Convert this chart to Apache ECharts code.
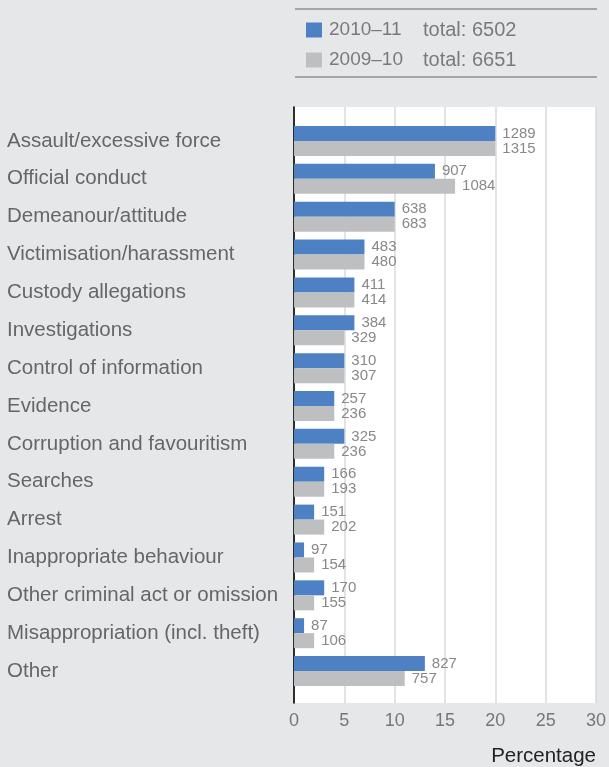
<!DOCTYPE html>
<html>
<head>
<meta charset="utf-8">
<style>
  html, body { margin: 0; padding: 0; background: #e6e7e9; }
  #chart { width: 609px; height: 767px; }
</style>
<script src="https://cdn.jsdelivr.net/npm/echarts@6/dist/echarts.min.js"></script>
</head>
<body>
<div id="chart"></div>
<script>
// complaint categories, top to bottom
const categories = [
    'Assault/excessive force',
    'Official conduct',
    'Demeanour/attitude',
    'Victimisation/harassment',
    'Custody allegations',
    'Investigations',
    'Control of information',
    'Evidence',
    'Corruption and favouritism',
    'Searches',
    'Arrest',
    'Inappropriate behaviour',
    'Other criminal act or omission',
    'Misappropriation (incl. theft)',
    'Other'
];

const years = ['2010–11', '2009–10'];
const totals = [6502, 6651];

// bar lengths (percentage)
const pct1011 = [20, 14, 10, 7, 6, 6, 5, 4, 5, 3, 2, 1, 3, 1, 13];
const pct0910 = [20, 16, 10, 7, 6, 5, 5, 4, 4, 3, 3, 2, 2, 2, 11];

// counts printed next to the bars
const count1011 = [1289, 907, 638, 483, 411, 384, 310, 257, 325, 166, 151, 97, 170, 87, 827];
const count0910 = [1315, 1084, 683, 480, 414, 329, 307, 236, 236, 193, 202, 154, 155, 106, 757];

const xTicks = [0, 5, 10, 15, 20, 25, 30];

const FONT = '"Liberation Sans", Arial, sans-serif';
const BLUE = '#4d81c3';
const GREY = '#bebfc1';

const chart = echarts.init(document.getElementById('chart'));

function barSeries(name, values, counts) {
    return {
        name: name,
        type: 'bar',
        xAxisIndex: 1,
        yAxisIndex: 1,
        data: values,
        barWidth: 15,
        barGap: '0%',
        itemStyle: { color: name === years[0] ? BLUE : GREY },
        label: {
            show: true,
            position: 'right',
            distance: 7,
            color: '#888',
            fontFamily: FONT,
            fontSize: 15,
            formatter: (p) => String(counts[p.dataIndex])
        },
        emphasis: { disabled: true }
    };
}

const option = {
    backgroundColor: '#e6e7e9',
    animation: false,
    textStyle: { fontFamily: FONT },
    legend: {
        data: years,
        orient: 'vertical',
        left: 301,
        top: 15,
        itemWidth: 16,
        itemHeight: 15,
        itemGap: 10,
        icon: 'rect',
        selectedMode: false,
        textStyle: {
            padding: [0, 0, 0, 2],
            lineHeight: 20,
            rich: {
                y: { width: 94, fontSize: 19, color: '#7a7a7a', fontFamily: FONT },
                t: { fontSize: 20, color: '#7a7a7a', fontFamily: FONT }
            }
        },
        formatter: (name) => {
            const i = years.indexOf(name);
            return '{y|' + name + '}{t|total: ' + totals[i] + '}';
        }
    },
    graphic: [
        { type: 'line', shape: { x1: 295, y1: 9, x2: 597, y2: 9 }, style: { stroke: '#8f8f8f', lineWidth: 1.5 } },
        { type: 'line', shape: { x1: 295, y1: 77, x2: 597, y2: 77 }, style: { stroke: '#8f8f8f', lineWidth: 1.5 } }
    ],
    grid: [
        // white plot background with grid lines
        { left: 294, right: 13, top: 107, bottom: 62, show: true, backgroundColor: '#fff', borderWidth: 0 },
        // bars
        { left: 294, right: 13, top: 122, bottom: 77 }
    ],
    xAxis: [
        {
            gridIndex: 0,
            type: 'value',
            min: xTicks[0],
            max: xTicks[xTicks.length - 1],
            interval: 5,
            axisLine: { show: false },
            axisTick: { show: false },
            splitLine: { lineStyle: { color: '#dadada', width: 1.5 } },
            axisLabel: { color: '#777', fontSize: 18, margin: 9, fontFamily: FONT },
            name: 'Percentage',
            nameLocation: 'end',
            nameGap: 0,
            nameTextStyle: {
                color: '#222',
                fontSize: 20.5,
                fontFamily: FONT,
                align: 'right',
                verticalAlign: 'top',
                padding: [43, 0, 0, 0]
            }
        },
        {
            gridIndex: 1,
            type: 'value',
            min: xTicks[0],
            max: xTicks[xTicks.length - 1],
            show: false
        }
    ],
    yAxis: [
        {
            gridIndex: 0,
            type: 'value',
            axisLine: { show: true, lineStyle: { color: '#000', width: 1.6 } },
            axisTick: { show: false },
            axisLabel: { show: false },
            splitLine: { show: false }
        },
        {
            gridIndex: 1,
            type: 'category',
            data: categories,
            inverse: true,
            axisLine: { show: false },
            axisTick: { show: false },
            axisLabel: {
                align: 'left',
                margin: 287,
                color: '#666',
                fontSize: 20.5,
                fontFamily: FONT
            }
        }
    ],
    series: [
        barSeries(years[0], pct1011, count1011),
        barSeries(years[1], pct0910, count0910)
    ]
};

chart.setOption(option);
</script>
</body>
</html>
